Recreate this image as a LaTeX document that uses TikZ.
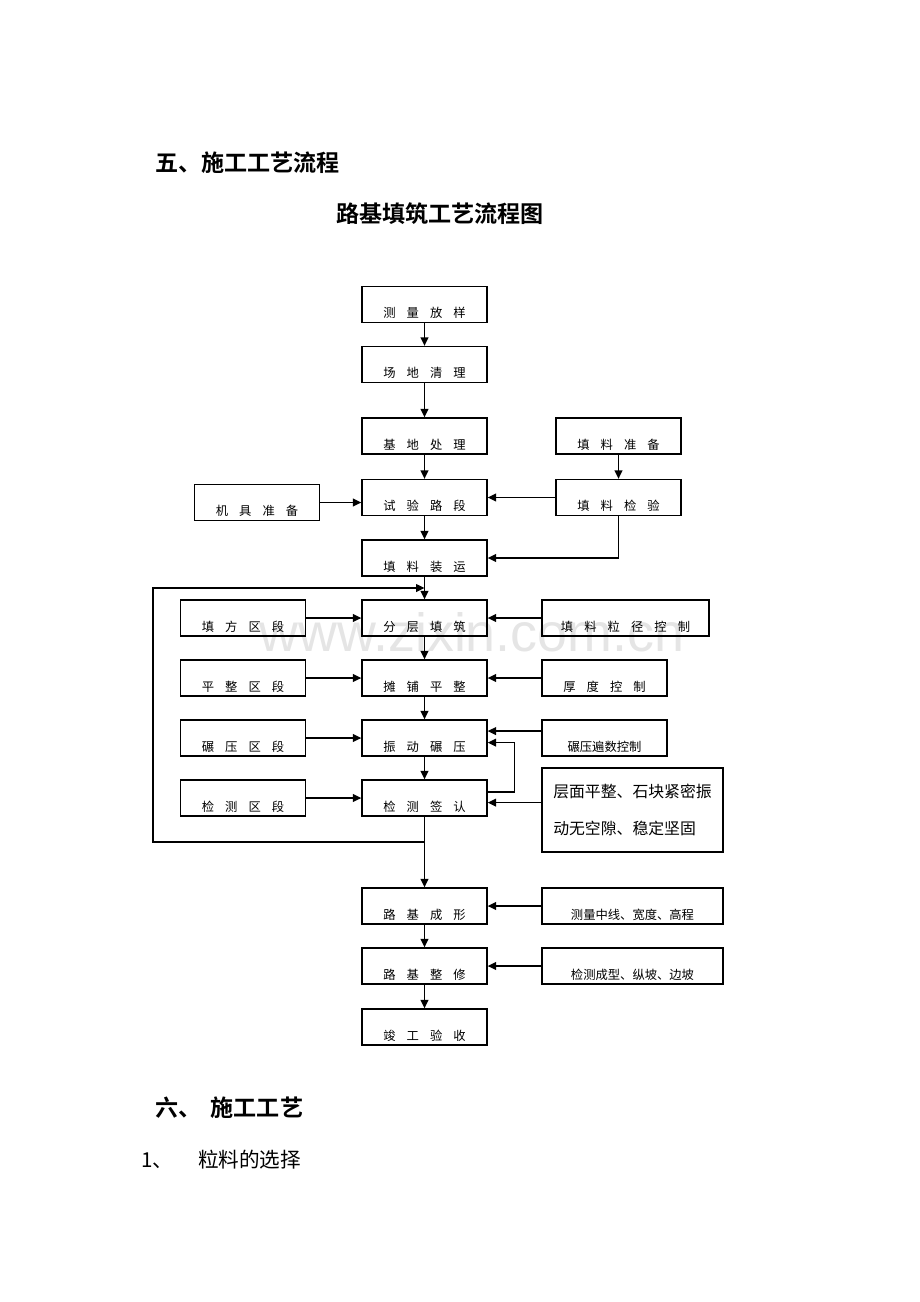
\documentclass[tikz,border=0pt]{standalone}
\usepackage{fontspec}
\setmainfont{Noto Sans CJK SC}[BoldFont={Noto Sans CJK SC Bold}]
\newfontfamily\wmfont{Liberation Sans}
\usetikzlibrary{arrows.meta}
\newcommand{\kg}{\hspace{0.9em}}

\begin{document}
\begin{tikzpicture}[x=0.65pt,y=-0.65pt,>={Triangle[length=5.5pt,width=5pt]},
    box/.style={draw,line width=0.8pt,minimum width=125*0.65pt,minimum height=36*0.65pt,inner ysep=0pt,text height=20.4pt,text depth=3pt,font=\fontsize{8}{9}\selectfont},
    flow/.style={->,line width=1.1pt},
    title/.style={font=\fontsize{15}{17}\selectfont\bfseries}]

    \useasboundingbox (0,0) rectangle (920,1302);

    \node[text=gray!20,font=\wmfont\fontsize{35}{40}\selectfont] (wm) at (472,632) {www.zixin.com.cn};

    \node[title,anchor=west] (h1) at (150,163) {五、施工工艺流程};
    \node[title] (h2) at (440,214) {路基填筑工艺流程图};
    \node[title,anchor=west] (h3) at (150,1108) {六、\hspace{6pt}施工工艺};
    \node[anchor=west,font=\fontsize{13.4}{16}\selectfont] (h4) at (136,1160) {1、\hspace{16pt}粒料的选择};

    % main column
    \node[box] (1) at (424.5,304.5) {测\kg 量\kg 放\kg 样};
    \node[box] (2) at (424.5,364.5) {场\kg 地\kg 清\kg 理};
    \node[box] (3) at (424.5,436) {基\kg 地\kg 处\kg 理};
    \node[box] (4) at (424.5,497.5) {试\kg 验\kg 路\kg 段};
    \node[box] (5) at (424.5,558) {填\kg 料\kg 装\kg 运};
    \node[box] (6) at (424.5,618) {分\kg 层\kg 填\kg 筑};
    \node[box] (7) at (424.5,678) {摊\kg 铺\kg 平\kg 整};
    \node[box] (8) at (424.5,738) {振\kg 动\kg 碾\kg 压};
    \node[box] (9) at (424.5,798) {检\kg 测\kg 签\kg 认};
    \node[box] (10) at (424.5,906) {路\kg 基\kg 成\kg 形};
    \node[box] (11) at (424.5,966) {路\kg 基\kg 整\kg 修};
    \node[box] (12) at (424.5,1027) {竣\kg 工\kg 验\kg 收};

    % side boxes
    \node[box] (13) at (618.5,436) {填\kg 料\kg 准\kg 备};
    \node[box] (14) at (618.5,497.5) {填\kg 料\kg 检\kg 验};
    \node[box] (15) at (257,502.5) {机\kg 具\kg 准\kg 备};
    \node[box] (16) at (243,618) {填\kg 方\kg 区\kg 段};
    \node[box] (17) at (243,678) {平\kg 整\kg 区\kg 段};
    \node[box] (18) at (243,738) {碾\kg 压\kg 区\kg 段};
    \node[box] (19) at (243,798) {检\kg 测\kg 区\kg 段};
    \node[box,minimum width=167*0.65pt] (20) at (625.5,618) {填\kg 料\kg 粒\kg 径\kg 控\kg 制};
    \node[box] (21) at (604.5,678) {厚\kg 度\kg 控\kg 制};
    \node[box] (22) at (604.5,738) {碾压遍数控制};
    \node[draw,line width=0.8pt,minimum width=181*0.65pt,minimum height=84*0.65pt,align=left,font=\fontsize{10.3}{24}\selectfont] (23) at (632.5,810) {层面平整、石块紧密振\\动无空隙、稳定坚固};
    \node[box,minimum width=181*0.65pt] (24) at (632.5,906) {测量中线、宽度、高程};
    \node[box,minimum width=181*0.65pt] (25) at (632.5,966) {检测成型、纵坡、边坡};

    \path[flow]
        (1) edge (2)
        (2) edge (3)
        (3) edge (4)
        (4) edge (5)
        (5) edge (6)
        (6) edge (7)
        (7) edge (8)
        (8) edge (9)
        (10) edge (11)
        (11) edge (12)
        (13) edge (14)
        (14) edge (4)
        (15.east) edge (15.east -| 4.west)
        (16) edge (6)
        (17) edge (7)
        (18) edge (8)
        (19) edge (9)
        (20) edge (6)
        (21) edge (7)
        ([yshift=4.5pt]22.west) edge ([yshift=4.5pt]8.east)
        (24) edge (10)
        (25) edge (11)
    ;

    \draw[flow] (14.south) |- (5.east);
    \draw[flow] ([yshift=4pt]9.east) -- ++(27,0) |- ([yshift=-3pt]8.east);
    \draw[flow] ([yshift=-3pt]9.east -| 23.west) -- ([yshift=-3pt]9.east);

    % return loop
    \coordinate (j) at (424.5,842);
    \coordinate (k) at (153,842);
    \coordinate (l) at (153,588);
    \coordinate (m) at (424.5,588);
    \draw[flow] (9) -- (10);
    \draw[flow] (j) -- (k) -- (l) -- (m);
\end{tikzpicture}
\end{document}
